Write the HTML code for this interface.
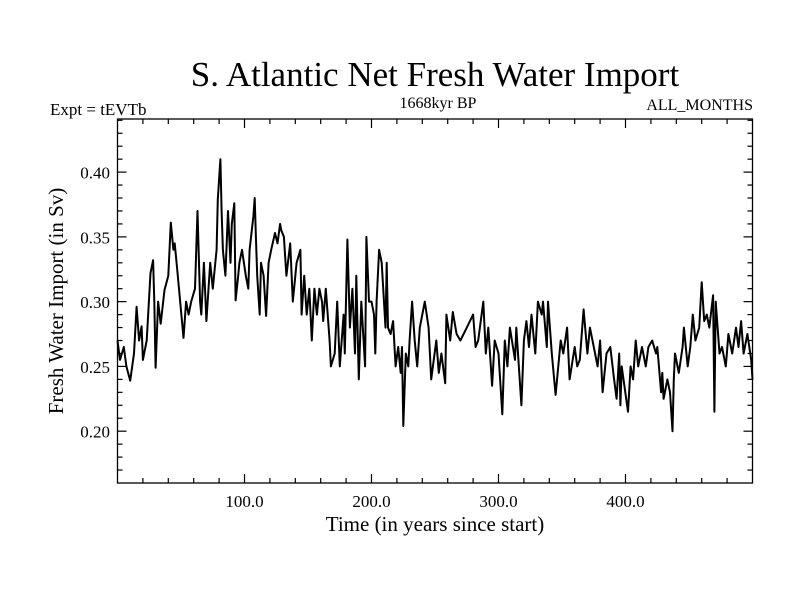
<!DOCTYPE html>
<html><head><meta charset="utf-8"><style>
body{margin:0;background:#fff}
svg{display:block;font-family:"Liberation Serif",serif}
</style></head><body>
<svg id="chart" width="800" height="600" viewBox="0 0 800 600">
<text x="435" y="86" font-size="35" text-anchor="middle">S. Atlantic Net Fresh Water Import</text>
<text x="50" y="115" font-size="17">Expt = tEVTb</text>
<text x="438" y="108" font-size="16" text-anchor="middle">1668kyr BP</text>
<text x="753" y="110" font-size="16" text-anchor="end">ALL_MONTHS</text>
<text transform="translate(63,301) rotate(-90)" font-size="21" text-anchor="middle">Fresh Water Import (in Sv)</text>
<text x="435" y="531" font-size="21" text-anchor="middle">Time (in years since start)</text>
<g id="axes"></g>
<path id="series" fill="none" stroke="#000" stroke-width="2" stroke-linejoin="round"/>
<rect x="117.5" y="119" width="635" height="364" fill="none" stroke="#000" stroke-width="1.3"/>
</svg>
<script>
const years=[0,2,5,7,10,13,15,17,19,20,23,26,28,29,30,32,34,36,37,40,42,44,45,47,49,52,54,56,58,61,63,65,66,68,70,73,75,77,78,79,81,82,83,85,87,89,90,92,93,95,96,98,101,103,104,107,108,109,110,112,113,115,117,119,121,124,126,128,129,131,133,136,138,141,144,145,147,149,151,153,155,157,159,161,162,164,167,168,171,173,175,178,179,181,183,185,187,188,190,192,195,196,198,200,202,203,204,206,208,211,212,213,215,217,219,221,223,224,225,227,229,230,232,234,236,238,242,245,247,251,253,255,258,259,262,264,267,270,275,280,282,284,288,290,292,295,297,300,303,305,307,309,313,314,318,320,322,324,326,329,331,334,335,338,339,342,345,349,351,354,356,360,362,364,367,370,372,375,378,380,382,385,388,391,393,395,396,397,402,404,406,408,410,413,416,418,421,424,425,428,429,430,433,435,437,438,439,442,445,446,449,451,453,455,458,460,462,464,466,469,470,471,474,476,479,481,484,487,489,491,493,496,499,500];
const values=[.27,.255,.265,.25,.239,.26,.296,.27,.281,.255,.27,.322,.332,.30,.249,.30,.283,.30,.309,.32,.361,.34,.345,.325,.304,.272,.30,.29,.30,.31,.37,.30,.29,.33,.285,.33,.31,.33,.34,.379,.41,.37,.34,.32,.37,.33,.36,.376,.301,.32,.33,.34,.32,.31,.34,.366,.38,.35,.32,.29,.33,.32,.289,.33,.34,.353,.345,.36,.355,.35,.32,.345,.30,.33,.34,.29,.32,.29,.31,.27,.31,.29,.31,.30,.285,.31,.27,.25,.26,.30,.25,.29,.26,.348,.28,.31,.26,.32,.24,.30,.25,.35,.30,.30,.29,.26,.30,.34,.33,.28,.33,.28,.275,.285,.25,.265,.245,.265,.204,.26,.25,.27,.30,.27,.25,.28,.30,.28,.24,.27,.245,.26,.237,.29,.27,.292,.275,.27,.28,.29,.265,.27,.30,.26,.28,.235,.27,.26,.213,.27,.25,.28,.255,.28,.22,.27,.285,.265,.29,.26,.30,.29,.30,.265,.30,.26,.228,.27,.26,.28,.24,.265,.25,.255,.294,.26,.28,.265,.25,.27,.23,.26,.265,.24,.225,.26,.22,.25,.215,.25,.24,.27,.25,.265,.25,.265,.27,.26,.265,.23,.245,.225,.24,.23,.20,.24,.26,.245,.265,.28,.25,.265,.29,.27,.28,.315,.285,.29,.28,.305,.215,.30,.26,.265,.25,.275,.26,.28,.265,.285,.26,.275,.255,.24];
const xTicks=[100,200,300,400];
const xTickLabels=["100.0","200.0","300.0","400.0"];
const yTicks=[0.20,0.25,0.30,0.35,0.40];
const yTickLabels=["0.20","0.25","0.30","0.35","0.40"];
const X0=117.5,X1=752.5,Y0=483,Y1=119,xmin=0,xmax=500,ymin=0.16,ymax=0.441;
function sx(v){return X0+(v-xmin)/(xmax-xmin)*(X1-X0);}
function sy(v){return Y0-(v-ymin)/(ymax-ymin)*(Y0-Y1);}
const NS="http://www.w3.org/2000/svg";
const g=document.getElementById('axes');
function line(x1,y1,x2,y2,name){const l=document.createElementNS(NS,'line');l.setAttribute('x1',x1);l.setAttribute('y1',y1);l.setAttribute('x2',x2);l.setAttribute('y2',y2);l.setAttribute('stroke','#000');l.setAttribute('stroke-width','1.2');


g.appendChild(l);}
function txt(x,y,s,anchor,name){const t=document.createElementNS(NS,'text');t.setAttribute('x',x);t.setAttribute('y',y);t.setAttribute('font-size','17');t.setAttribute('text-anchor',anchor);t.textContent=s;


g.appendChild(t);}
for(let v=20;v<500;v+=20){const x=sx(v);const L=(v%100===0)?9:5;line(x,Y0,x,Y0-L,'x-tick');line(x,Y1,x,Y1+L,'x-tick-top');}
for(let k=17;k<=44;k++){const v=k/100;const y=sy(v);const L=(k%5===0)?9:5;line(X0,y,X0+L,y,'y-tick');line(X1,y,X1-L,y,'y-tick-right');}
xTicks.forEach((v,i)=>txt(sx(v),507,xTickLabels[i],'middle','x-tick-label'));
yTicks.forEach((v,i)=>txt(110,sy(v)+6.5,yTickLabels[i],'end','y-tick-label'));
let d='';years.forEach((yr,i)=>{d+=(i?'L':'M')+sx(yr).toFixed(1)+','+sy(values[i]).toFixed(1);});
document.getElementById('series').setAttribute('d',d);
</script>
</body></html>
